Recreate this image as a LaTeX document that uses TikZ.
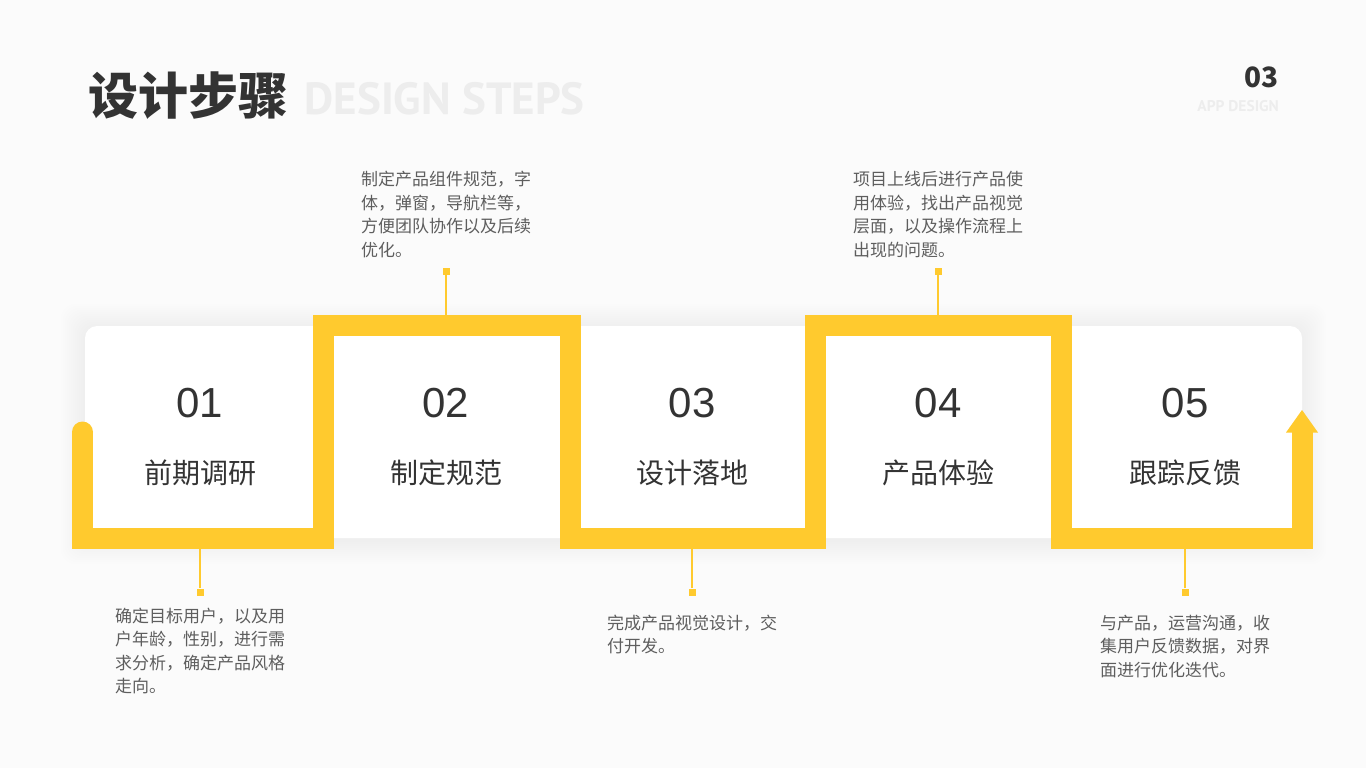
\documentclass[tikz,border=0pt]{standalone}
\usepackage{fontspec}
\setmainfont{Noto Sans CJK SC}
\newfontfamily\numfont{Liberation Sans}
\newfontfamily\ghostfont{PT Sans}
\usepackage{tikz}
\usetikzlibrary{positioning}
\definecolor{gold}{RGB}{255, 202, 46}
\definecolor{ink}{RGB}{51, 51, 51}
\definecolor{muted}{RGB}{94, 94, 94}
\definecolor{ghost}{RGB}{237, 237, 237}
\definecolor{paper}{RGB}{251, 251, 251}
\tikzstyle{num} = [inner sep=0pt, text=ink, font=\numfont\fontsize{42}{42}\selectfont]
\tikzstyle{stage} = [inner sep=0pt, text=ink, font=\fontsize{28}{28}\selectfont]
\tikzstyle{desc} = [inner sep=0pt, text=muted, align=left, font=\fontsize{17}{23.5}\selectfont]
\tikzstyle{tag} = [inner sep=0pt, fill=gold, minimum size=7pt]
\tikzstyle{tline} = [draw=gold, line width=2pt]
\tikzstyle{band} = [draw=gold, line width=21pt, line join=miter]

\begin{document}
\begin{tikzpicture}[x=1pt, y=-1pt]
\useasboundingbox (0,0) rectangle (1366,768);
\fill[paper] (0,0) rectangle (1366,768);

% heading =============================
\node[inner sep=0pt, anchor=west, text=ink, font=\fontsize{50}{50}\selectfont\bfseries] (title) at (88,96) {设计步骤};
\node[inner sep=0pt, text=ghost, font=\ghostfont\fontsize{45}{45}\selectfont\bfseries, base right=16pt of title] (subtitle) {DESIGN STEPS};
\node[inner sep=0pt, anchor=east, text=ink, font=\fontsize{28}{28}\selectfont\bfseries] (page) at (1279,77) {03};
\node[inner sep=0pt, anchor=east, text=ghost, font=\ghostfont\fontsize{15.5}{15.5}\selectfont\bfseries] (app) at (1279,106) {APP DESIGN};

% card =============================
\foreach \s in {2,4,...,24}
  \fill[black, opacity=0.004, rounded corners=14pt] (85-\s,328-\s) rectangle (1302+\s,540+\s);
\fill[white, rounded corners=12pt] (85,326) rectangle (1302,538);

% tags =============================
\node[tag] (t1) at (200,592) {};
\node[tag] (t2) at (446,271.5) {};
\node[tag] (t3) at (692,592) {};
\node[tag] (t4) at (938,271.5) {};
\node[tag] (t5) at (1185,592) {};

\coordinate (e1) at (200,538.5);
\coordinate (e2) at (446,325.5);
\coordinate (e3) at (692,538.5);
\coordinate (e4) at (938,325.5);
\coordinate (e5) at (1185,538.5);

%tag lines
\path[tline] (t1) -- (e1);
\path[tline] (t2) -- (e2);
\path[tline] (t3) -- (e3);
\path[tline] (t4) -- (e4);
\path[tline] (t5) -- (e5);

% band =============================
\draw[band] (82.5,432) -- (82.5,538.5) -- (323,538.5) -- (323,325.5) -- (570,325.5) -- (570,538.5)
  -- (815.5,538.5) -- (815.5,325.5) -- (1061,325.5) -- (1061,538.5) -- (1302,538.5) -- (1302,432);
\fill[gold] (82.5,432) circle (10.5);
\fill[gold] (1286,432.5) -- (1302,410) -- (1318,432.5) -- cycle;

% steps =============================
\node[num] (n1) at (200,403) {01};
\node[num] (n2) at (446,403) {02};
\node[num] (n3) at (692,403) {03};
\node[num] (n4) at (938,403) {04};
\node[num] (n5) at (1185,403) {05};

\node[stage, below=42pt of n1] (s1) {前期调研};
\node[stage, below=42pt of n2] (s2) {制定规范};
\node[stage, below=42pt of n3] (s3) {设计落地};
\node[stage, below=42pt of n4] (s4) {产品体验};
\node[stage, below=42pt of n5] (s5) {跟踪反馈};

% descriptions =============================
\node[desc, below=12pt of t1] (d1) {确定目标用户，以及用\\户年龄，性别，进行需\\求分析，确定产品风格\\走向。};
\node[desc, above=10pt of t2] (d2) {制定产品组件规范，字\\体，弹窗，导航栏等，\\方便团队协作以及后续\\优化。};
\node[desc, below=19pt of t3] (d3) {完成产品视觉设计，交\\付开发。};
\node[desc, above=10pt of t4] (d4) {项目上线后进行产品使\\用体验，找出产品视觉\\层面，以及操作流程上\\出现的问题。};
\node[desc, below=19pt of t5] (d5) {与产品，运营沟通，收\\集用户反馈数据，对界\\面进行优化迭代。};

\end{tikzpicture}
\end{document}
